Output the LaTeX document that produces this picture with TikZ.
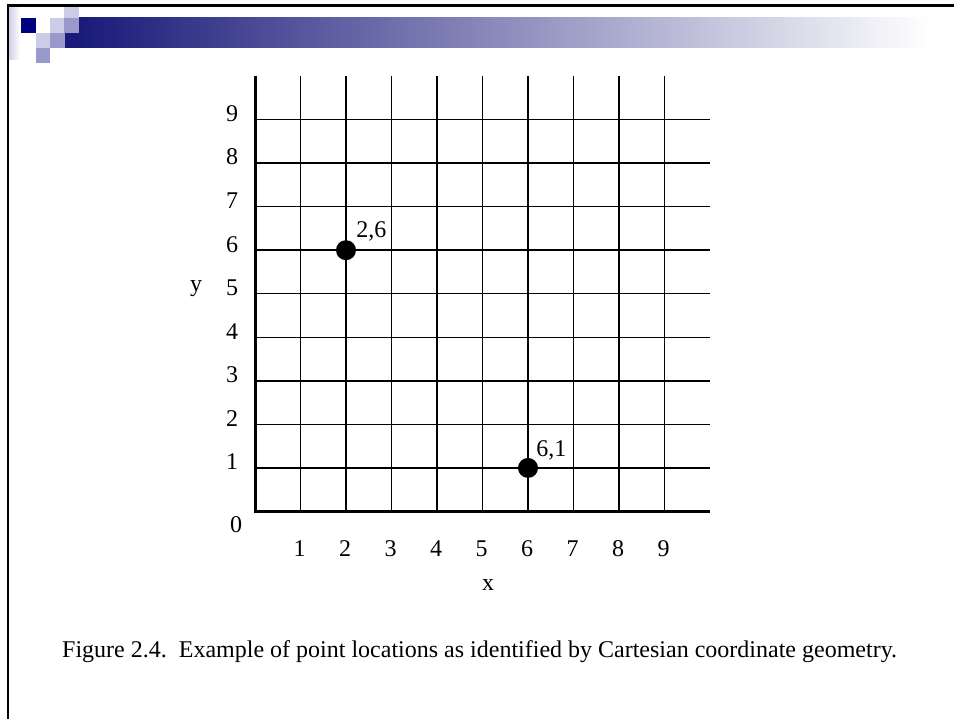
\documentclass[tikz,border=0pt]{standalone}
\usepackage{fontspec}
\setmainfont{Liberation Serif}
\usetikzlibrary{positioning}

\definecolor{navy}{RGB}{0,0,128}
\definecolor{lavlight}{RGB}{204,204,230}
\definecolor{lavmid}{RGB}{153,153,204}
\definecolor{bardark}{RGB}{26,26,122}
\definecolor{barmid}{RGB}{185,185,205}

\begin{document}
\begin{tikzpicture}[x=1pt, y=-1pt, every node/.style={font=\fontsize{24}{28}\selectfont, inner sep=0pt}, dot/.style={circle, fill=black, minimum size=20pt, inner sep=0pt}, gridline/.style={line width=1.5pt}, axisline/.style={line width=3pt}]
        \useasboundingbox (0,0) rectangle (954,719);
        % Define the origin and the unit lengths of the grid
        \def\ox{255}
        \def\oy{511.5}
        \def\ux{45.5}
        \def\uy{43.55}

        % Draw the slide header squares and the shaded bar
        \shade[left color=lavlight, right color=white] (8,7) rectangle (20,60);
        \fill[lavlight] (64,7) rectangle (79,18);
        \fill[navy] (21,18) rectangle (36,33);
        \fill[lavlight] (50,18) rectangle (64,33);
        \fill[lavmid] (64,18) rectangle (79,33);
        \fill[lavlight] (36,33) rectangle (50,48);
        \fill[lavmid] (50,33) rectangle (65,48);
        \fill[bardark] (65,33) rectangle (79,48);
        \fill[lavmid] (36,48) rectangle (50,63);
        \shade[left color=bardark, middle color=barmid, right color=white] (79,18) rectangle (930,48);

        % Draw the slide border
        \draw[line width=2.7pt, line join=miter] (954,5.3) -- (8,5.3) -- (8,719);

        % Draw the grid lines
        \foreach \i in {1,...,9}
        {
          \draw[gridline] (\ox+\i*\ux, \oy) -- (\ox+\i*\ux, \oy-10*\uy);
          \draw[gridline] (\ox, \oy-\i*\uy) -- (\ox+10*\ux, \oy-\i*\uy);
        }

        % Draw the axes
        \draw[axisline] (\ox, \oy-10*\uy) -- (\ox, \oy) -- (\ox+10*\ux, \oy);

        % Label the axes
        \foreach \i in {1,...,9}
        {
          \node (ylab\i) at (232, \oy-\i*\uy-6) {\i};
          \node (xlab\i) at (\ox+\i*\ux-1, 549) {\i};
        }
        \node (zero) at (236, 525) {0};
        \node (xname) at (488, 585) {x};
        \node (yname) at (196, 289) {y};

        % Draw the points and their labels
        \node[dot] (p26) at (\ox+2*\ux, \oy-6*\uy) {};
        \node[dot] (p61) at (\ox+6*\ux, \oy-1*\uy) {};
        \node[above right=2pt and 3pt of p26] (lab26) {2,6};
        \node[above right=0pt and 1pt of p61] (lab61) {6,1};

        % Write the caption
        \node[anchor=west] (caption) at (62, 652) {Figure 2.4.~~Example of point locations as identified by Cartesian coordinate geometry.};
      \end{tikzpicture}
\end{document}
